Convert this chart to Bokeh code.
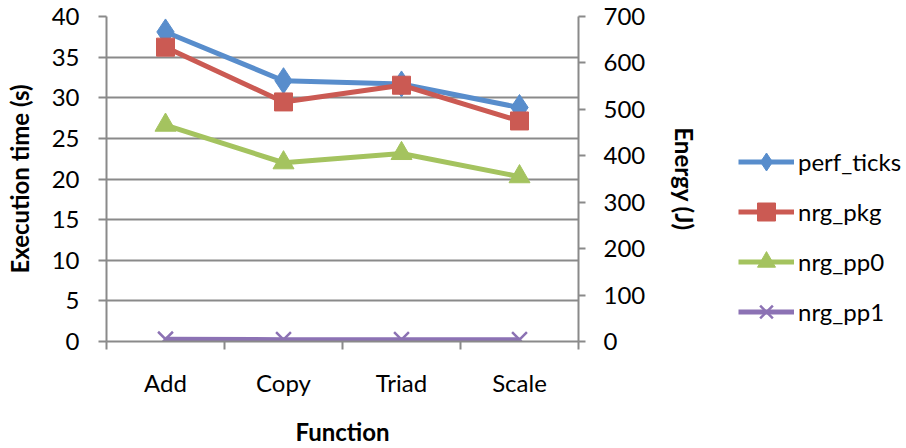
from bokeh.plotting import figure
from bokeh.layouts import row
from bokeh.models import (Range1d, LinearAxis, FixedTicker, Legend, LegendItem, ColumnDataSource)
from bokeh.embed import file_html
from bokeh.resources import INLINE

categories = ["Add", "Copy", "Triad", "Scale"]
perf_ticks = [38.1, 32.1, 31.7, 28.8]      # seconds (left axis)
nrg_pkg = [634, 516, 552, 475]             # joules (right axis)
nrg_pp0 = [466, 385, 405, 355]
nrg_pp1 = [5, 4, 4, 4]
left_ticks = [0, 5, 10, 15, 20, 25, 30, 35, 40]
right_ticks = [0, 100, 200, 300, 400, 500, 600, 700]

FONT = "Lato"
GRID = "#8A8A8A"
TICK_FS = "24px"
TITLE_FS = "24px"

xs = [i + 0.5 for i in range(len(categories))]

p = figure(width=720, height=448, output_backend="svg", toolbar_location=None,
           x_range=Range1d(0, len(categories)), y_range=Range1d(0, 40),
           min_border_left=106, min_border_right=142, min_border_top=16, min_border_bottom=106)
p.extra_y_ranges = {"energy": Range1d(0, 700)}
p.outline_line_color = None
p.xgrid.visible = False
p.ygrid.ticker = FixedTicker(ticks=left_ticks)
p.ygrid.grid_line_color = GRID
p.ygrid.grid_line_width = 2

# bottom axis: labels at centres, ticks at boundaries
xa = p.xaxis[0]
xa.ticker = FixedTicker(ticks=xs, minor_ticks=list(range(len(categories) + 1)))
xa.major_label_overrides = {x: c for x, c in zip(xs, categories)}
xa.major_tick_out = 0
xa.major_tick_in = 0
xa.minor_tick_out = 8
xa.minor_tick_in = 0
xa.minor_tick_line_color = GRID
xa.minor_tick_line_width = 2
xa.axis_line_color = GRID
xa.axis_line_width = 2
xa.major_label_text_font = FONT
xa.major_label_text_font_size = TICK_FS
xa.major_label_text_color = "black"
xa.major_label_standoff = 18
xa.axis_label = "Function"
xa.axis_label_text_font = FONT
xa.axis_label_text_font_size = TITLE_FS
xa.axis_label_text_font_style = "bold"
xa.axis_label_text_color = "black"
xa.axis_label_standoff = 17

ya = p.yaxis[0]
ya.ticker = FixedTicker(ticks=left_ticks)
ya.major_tick_out = 8
ya.major_tick_in = 0
ya.minor_tick_out = 0
ya.minor_tick_in = 0
ya.major_tick_line_color = GRID
ya.major_tick_line_width = 2
ya.axis_line_color = GRID
ya.axis_line_width = 2
ya.major_label_text_font = FONT
ya.major_label_text_font_size = TICK_FS
ya.major_label_text_color = "black"
ya.major_label_standoff = 19
ya.axis_label = "Execution time (s)"
ya.axis_label_text_font = FONT
ya.axis_label_text_font_size = TITLE_FS
ya.axis_label_text_font_style = "bold"
ya.axis_label_text_color = "black"
ya.axis_label_standoff = 15

ra = LinearAxis(y_range_name="energy", ticker=FixedTicker(ticks=right_ticks))
ra.major_tick_out = 7
ra.major_tick_in = 0
ra.minor_tick_out = 0
ra.minor_tick_in = 0
ra.major_tick_line_color = GRID
ra.major_tick_line_width = 2
ra.axis_line_color = GRID
ra.axis_line_width = 2
ra.major_label_text_font = FONT
ra.major_label_text_font_size = TICK_FS
ra.major_label_text_color = "black"
ra.major_label_standoff = 18
ra.axis_label = "Energy (J)"
ra.axis_label_text_font = FONT
ra.axis_label_text_font_size = TITLE_FS
ra.axis_label_text_font_style = "bold"
ra.axis_label_text_color = "black"
ra.axis_label_standoff = 22
p.add_layout(ra, "right")

# legend panel: a second figure whose ranges keep its copies of the series off-screen
q = figure(width=186, height=448, output_backend="svg", toolbar_location=None,
           x_range=Range1d(100, 101), y_range=Range1d(100, 101),
           min_border_left=0, min_border_right=0, min_border_top=0, min_border_bottom=0)
q.axis.visible = False
q.grid.visible = False
q.outline_line_color = None
q.extra_y_ranges = {"energy": Range1d(10000, 10001)}

series = [
    ("perf_ticks", perf_ticks, "default", "#588DCC", "diamond", 26),
    ("nrg_pkg", nrg_pkg, "energy", "#CB5A53", "square", 18),
    ("nrg_pp0", nrg_pp0, "energy", "#A4C35F", "triangle", 21),
    ("nrg_pp1", nrg_pp1, "energy", "#8C72B4", "x", 21),
]
items = []
for name, vals, rng, color, marker, size in series:
    src = ColumnDataSource(dict(x=xs, y=vals))
    lw = 2.5 if marker == "x" else 1
    p.line("x", "y", source=src, y_range_name=rng, line_color=color, line_width=5)
    p.scatter("x", "y", source=src, y_range_name=rng, marker=marker, size=size,
              fill_color=color, line_color=color, line_width=lw)
    l = q.line("x", "y", source=src, y_range_name=rng, line_color=color, line_width=5)
    s = q.scatter("x", "y", source=src, y_range_name=rng, marker=marker, size=size,
                  fill_color=color, line_color=color, line_width=lw)
    items.append(LegendItem(label=name, renderers=[l, s]))

legend = Legend(items=items, location=(18, 7))
legend.glyph_width = 56
legend.glyph_height = 45
legend.label_standoff = 4
legend.spacing = 5
legend.padding = 0
legend.margin = 0
legend.border_line_color = None
legend.background_fill_alpha = 0
legend.label_text_font = FONT
legend.label_text_font_size = TICK_FS
legend.label_text_color = "black"
q.add_layout(legend, "center")

open("out.html", "w").write(file_html(row(p, q), INLINE))
